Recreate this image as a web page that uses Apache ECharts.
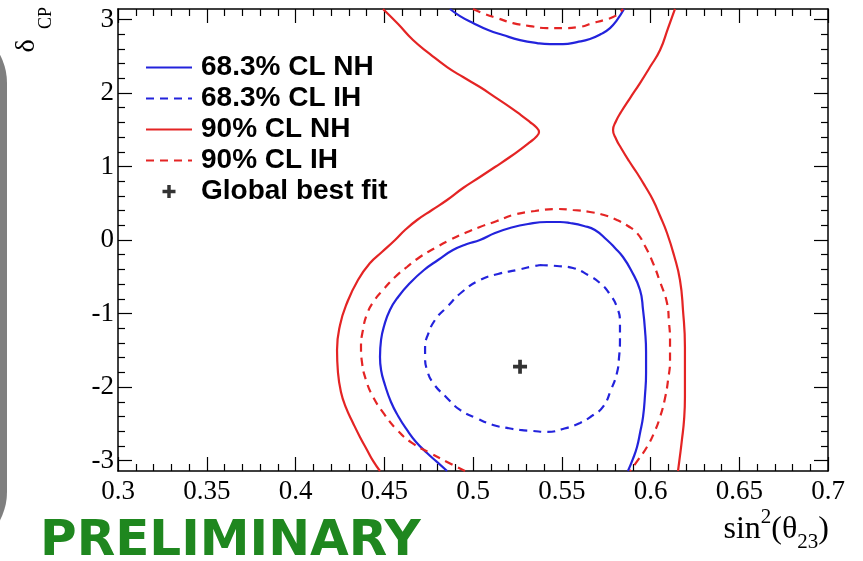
<!DOCTYPE html>
<html>
<head>
<meta charset="utf-8">
<title>deltaCP vs sin2(theta23)</title>
<script src="https://cdn.jsdelivr.net/npm/echarts@6/dist/echarts.min.js"></script>
<style>
html,body{margin:0;padding:0;background:#fff;}
#myChart{width:863px;height:561px;}
</style>
</head>
<body>
<div id="myChart"></div>
<script>
// contour points [sin^2(theta23), deltaCP]
// 68.3% NH: piece at the top edge + main ring (wraps through -pi/pi)
var nh68Top = [[0.4870,3.1416],[0.4927,3.0455],[0.5000,2.9504],[0.5085,2.8552],[0.5169,2.7872],[0.5265,2.7192],[0.5361,2.6784],[0.5434,2.6649],[0.5507,2.6649],[0.5586,2.6921],[0.5659,2.7329],[0.5721,2.8008],[0.5772,2.8824],[0.5811,2.9912],[0.5851,3.1416]];
var nh68Main = [[0.4854,-3.1416],[0.4797,-3.0184],[0.4741,-2.8960],[0.4679,-2.7464],[0.4628,-2.5833],[0.4578,-2.3929],[0.4538,-2.2026],[0.4504,-1.9714],[0.4482,-1.7675],[0.4476,-1.5908],[0.4482,-1.3596],[0.4499,-1.1693],[0.4532,-0.9517],[0.4578,-0.7750],[0.4645,-0.5846],[0.4724,-0.4079],[0.4803,-0.2719],[0.4887,-0.1360],[0.4966,-0.0544],[0.5039,0.0000],[0.5124,0.0952],[0.5208,0.1632],[0.5310,0.2175],[0.5417,0.2447],[0.5490,0.2447],[0.5546,0.2311],[0.5625,0.1903],[0.5687,0.1360],[0.5755,0.0000],[0.5800,-0.1088],[0.5845,-0.2311],[0.5890,-0.4079],[0.5941,-0.6798],[0.5958,-0.9517],[0.5969,-1.2237],[0.5975,-1.5228],[0.5975,-1.8083],[0.5969,-2.1074],[0.5958,-2.4065],[0.5941,-2.6241],[0.5924,-2.8144],[0.5901,-2.9776],[0.5873,-3.1416]];
// 68.3% IH: closed ring
var ih68 = [[0.5377,-0.3399],[0.5473,-0.3535],[0.5563,-0.3807],[0.5648,-0.4759],[0.5715,-0.5846],[0.5766,-0.7206],[0.5811,-0.9109],[0.5828,-1.1285],[0.5828,-1.3596],[0.5823,-1.5908],[0.5811,-1.8083],[0.5777,-2.0394],[0.5732,-2.2706],[0.5670,-2.3929],[0.5603,-2.4881],[0.5507,-2.5697],[0.5417,-2.6105],[0.5338,-2.5969],[0.5265,-2.5833],[0.5192,-2.5561],[0.5113,-2.5153],[0.5017,-2.4201],[0.4927,-2.3114],[0.4848,-2.1346],[0.4775,-1.9442],[0.4741,-1.7675],[0.4730,-1.5908],[0.4730,-1.4412],[0.4741,-1.3188],[0.4786,-1.0877],[0.4854,-0.9109],[0.4938,-0.7070],[0.5039,-0.5438],[0.5141,-0.4623],[0.5248,-0.4079],[0.5321,-0.3671],[0.5377,-0.3399]];
// 90% NH: two open branches
var nh90Left = [[0.4493,3.1416],[0.4578,2.9367],[0.4662,2.7192],[0.4758,2.5289],[0.4854,2.3521],[0.4944,2.2162],[0.5039,2.0802],[0.5124,1.9442],[0.5208,1.8083],[0.5270,1.6995],[0.5321,1.6043],[0.5355,1.5364],[0.5372,1.4684],[0.5355,1.4004],[0.5321,1.3324],[0.5270,1.2372],[0.5208,1.1285],[0.5124,0.9925],[0.5039,0.8566],[0.4944,0.7070],[0.4854,0.5438],[0.4769,0.4079],[0.4685,0.2719],[0.4617,0.1360],[0.4561,0.0000],[0.4487,-0.1632],[0.4420,-0.3127],[0.4352,-0.5438],[0.4290,-0.8566],[0.4251,-1.1557],[0.4234,-1.4956],[0.4239,-1.7947],[0.4256,-2.0666],[0.4285,-2.2842],[0.4324,-2.4881],[0.4363,-2.6784],[0.4403,-2.8552],[0.4437,-3.0048],[0.4476,-3.1416]];
var nh90Right = [[0.6138,3.1416],[0.6099,2.8824],[0.6054,2.5833],[0.5997,2.3521],[0.5941,2.1346],[0.5885,1.9307],[0.5834,1.7403],[0.5806,1.6180],[0.5789,1.4956],[0.5806,1.3732],[0.5834,1.2509],[0.5879,1.0741],[0.5924,0.9109],[0.5969,0.7342],[0.6014,0.5438],[0.6054,0.3263],[0.6093,0.0952],[0.6132,-0.2039],[0.6166,-0.5438],[0.6183,-0.9517],[0.6194,-1.4548],[0.6194,-2.1346],[0.6189,-2.4473],[0.6177,-2.7192],[0.6166,-2.9368],[0.6155,-3.1416]];
// 90% IH: piece at the top edge + main ring
var ih90Top = [[0.5000,3.1416],[0.5068,3.0727],[0.5135,3.0184],[0.5225,2.9504],[0.5321,2.9096],[0.5417,2.8824],[0.5507,2.8824],[0.5597,2.8960],[0.5676,2.9504],[0.5738,2.9912],[0.5789,3.0320],[0.5823,3.0864],[0.5845,3.1416]];
var ih90Main = [[0.4955,-3.1416],[0.4854,-3.0184],[0.4758,-2.8960],[0.4656,-2.7600],[0.4572,-2.5833],[0.4499,-2.3657],[0.4437,-2.1346],[0.4397,-1.9035],[0.4375,-1.6723],[0.4369,-1.4548],[0.4380,-1.2237],[0.4403,-1.0061],[0.4442,-0.8294],[0.4493,-0.6798],[0.4561,-0.5031],[0.4628,-0.3671],[0.4701,-0.2311],[0.4786,-0.1088],[0.4870,0.0000],[0.4955,0.0952],[0.5039,0.1768],[0.5135,0.2583],[0.5225,0.3399],[0.5349,0.3943],[0.5473,0.4215],[0.5563,0.4079],[0.5659,0.3807],[0.5738,0.3399],[0.5811,0.2719],[0.5873,0.1903],[0.5924,0.0952],[0.5969,-0.0816],[0.6014,-0.3127],[0.6054,-0.5710],[0.6093,-0.8566],[0.6104,-1.1149],[0.6110,-1.3596],[0.6110,-1.6315],[0.6099,-1.9035],[0.6082,-2.1482],[0.6054,-2.4065],[0.6020,-2.6241],[0.5980,-2.8144],[0.5930,-2.9912],[0.5885,-3.1416]];
var bestFit = [[0.5265,-1.723]];

var legendNames = ['68.3% CL NH','68.3% CL IH','90% CL NH','90% CL IH','Global best fit'];
var yMajor = [-3,-2,-1,0,1,2,3];
var yMinor = [-2.8,-2.6,-2.4,-2.2,-1.8,-1.6,-1.4,-1.2,-0.8,-0.6,-0.4,-0.2,0.2,0.4,0.6,0.8,1.2,1.4,1.6,1.8,2.2,2.4,2.6,2.8];

var blue = '#2323dc';
var red = '#e42424';
var dash = [8,6];
var plusPath = 'path://M-1.6,-6h3.2v4.4h4.4v3.2h-4.4v4.4h-3.2v-4.4h-4.4v-3.2h4.4z';

var myChart = echarts.init(document.getElementById('myChart'));

function xAx(pos, labels){
	return {
		type:'value', position:pos, min:0.3, max:0.7, interval:0.05,
		axisLine:{show:true, onZero:false, lineStyle:{color:'#000', width:1.5}},
		axisTick:{show:true, inside:true, length:14, lineStyle:{color:'#000', width:1.2}},
		minorTick:{show:true, splitNumber:5, length:7, lineStyle:{color:'#000', width:1.2}},
		axisLabel:{show:labels, margin:7, color:'#000', fontFamily:'Liberation Serif', fontSize:27},
		splitLine:{show:false}
	};
}
function yAx(pos, ticks, len, labels, line){
	return {
		type:'value', position:pos, min:-Math.PI, max:Math.PI,
		axisLine:{show:line, onZero:false, lineStyle:{color:'#000', width:1.5}},
		axisTick:{show:true, inside:true, length:len, customValues:ticks, lineStyle:{color:'#000', width:1.2}},
		axisLabel:{show:labels, customValues:ticks, margin:4, color:'#000', fontFamily:'Liberation Serif', fontSize:27},
		splitLine:{show:false}
	};
}
function contour(name, data, color, type){
	return {
		name:name, type:'line', data:data, symbol:'none', smooth:0.5,
		itemStyle:{color:color},
		lineStyle:{color:color, width:2.2, type:type}
	};
}
// legend entries for the contours: line only, no dot
var legendData = legendNames.map(function(n, i){
	return i < 4 ? {name:n, itemStyle:{opacity:0}} : {name:n};
});

var option = {
	animation:false,
	backgroundColor:'#fff',
	grid:{left:118, right:35, top:9, bottom:90},
	xAxis:[xAx('bottom', true), xAx('top', false)],
	yAxis:[yAx('left', yMajor, 14, true, true), yAx('right', yMajor, 14, false, true),
		yAx('left', yMinor, 7, false, false), yAx('right', yMinor, 7, false, false)],
	legend:{
		orient:'vertical', left:140, top:47, itemGap:0, itemWidth:46, itemHeight:13,
		data:legendData,
		textStyle:{color:'#000', fontFamily:'Liberation Sans', fontWeight:'bold', fontSize:28, lineHeight:31, padding:[0,0,0,4]}
	},
	graphic:[
		{type:'rect', shape:{x:-113, y:23, width:120, height:529, r:60}, style:{fill:'#7f7f7f'}},
		{type:'text', x:27, y:46, rotation:Math.PI/2, style:{text:'δ', fontFamily:'Liberation Serif', fontSize:28, fill:'#000', align:'center', verticalAlign:'middle'}},
		{type:'text', x:46, y:18, rotation:Math.PI/2, style:{text:'CP', fontFamily:'Liberation Serif', fontSize:18, fill:'#000', align:'center', verticalAlign:'middle'}},
		{type:'text', x:829, y:530, style:{
			text:'{m|sin}{sp|2}{m|(θ}{sb|23}{m|)}', align:'right', verticalAlign:'middle', fill:'#000',
			rich:{
				m:{fontFamily:'Liberation Serif', fontSize:32, lineHeight:46, verticalAlign:'middle', fill:'#000'},
				sp:{fontFamily:'Liberation Serif', fontSize:21, lineHeight:21, verticalAlign:'top', fill:'#000'},
				sb:{fontFamily:'Liberation Serif', fontSize:21, lineHeight:21, verticalAlign:'bottom', fill:'#000'}
			}
		}},
		{type:'text', x:40, y:542, style:{text:'PRELIMINARY', fontFamily:'DejaVu Sans', fontWeight:'bold', fontSize:50, fill:'#1f871f', verticalAlign:'middle'}}
	],
	series:[
		contour('68.3% CL NH', nh68Main, blue, 'solid'),
		contour('68.3% CL NH', nh68Top, blue, 'solid'),
		contour('68.3% CL IH', ih68, blue, dash),
		contour('90% CL NH', nh90Left, red, 'solid'),
		contour('90% CL NH', nh90Right, red, 'solid'),
		contour('90% CL IH', ih90Main, red, dash),
		contour('90% CL IH', ih90Top, red, dash),
		{
			name:'Global best fit', type:'scatter', data:bestFit,
			symbol:plusPath, symbolSize:14,
			itemStyle:{color:'#000'}
		}
	]
};
myChart.setOption(option);
</script>
</body>
</html>
